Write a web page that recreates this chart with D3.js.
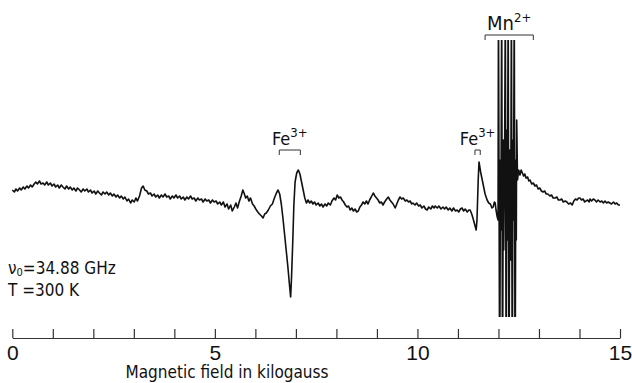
<!DOCTYPE html>
<html>
<head>
<meta charset="utf-8">
<script src="https://cdn.jsdelivr.net/npm/d3@7"></script>
<style>
  body { margin: 0; background: #fff; }
  text { font-family: "Liberation Sans Narrow", "DejaVu Sans Condensed", "Liberation Sans", sans-serif; fill: #111; }
</style>
</head>
<body>
<div id="chart"></div>
<script>
// EPR spectrum, field in kilogauss, signal in arbitrary derivative units
const spectrum = [
  [0.00, 10], [0.05, 8], [0.09, 11], [0.13, 9], [0.18, 12], [0.22, 10], [0.27, 13], [0.31, 11],
  [0.36, 14], [0.40, 12], [0.45, 15], [0.49, 13], [0.54, 16], [0.58, 18], [0.62, 16], [0.67, 19],
  [0.71, 16], [0.76, 17], [0.80, 15], [0.85, 18], [0.89, 15], [0.94, 17], [0.98, 14], [1.03, 16],
  [1.07, 13], [1.12, 15], [1.16, 12], [1.21, 15], [1.25, 13], [1.30, 11], [1.34, 14], [1.39, 11],
  [1.43, 13], [1.48, 10], [1.52, 12], [1.57, 9], [1.61, 12], [1.66, 10], [1.70, 8], [1.75, 11],
  [1.79, 9], [1.84, 11], [1.88, 8], [1.93, 10], [1.97, 7], [2.02, 9], [2.06, 6], [2.11, 9],
  [2.15, 7], [2.20, 5], [2.24, 8], [2.29, 6], [2.33, 8], [2.38, 5], [2.42, 7], [2.47, 4],
  [2.51, 6], [2.56, 3], [2.60, 5], [2.65, 2], [2.69, 4], [2.74, 1], [2.78, 3], [2.83, -1],
  [2.87, 1], [2.92, -3], [2.96, 0], [3.01, -2], [3.05, 2], [3.09, -1], [3.14, 4], [3.19, 12],
  [3.23, 14], [3.27, 10], [3.32, 9], [3.36, 6], [3.41, 7], [3.45, 4], [3.50, 6], [3.54, 3],
  [3.59, 5], [3.63, 2], [3.68, 5], [3.72, 3], [3.77, 6], [3.81, 3], [3.86, 4], [3.90, 1],
  [3.95, 4], [3.99, 2], [4.04, 5], [4.08, 2], [4.13, 4], [4.17, 1], [4.22, 3], [4.26, 0],
  [4.31, 3], [4.35, 1], [4.40, 4], [4.44, 1], [4.49, 2], [4.53, -1], [4.58, 2], [4.62, 0],
  [4.67, 1], [4.71, -2], [4.76, 1], [4.80, -1], [4.85, 0], [4.89, -3], [4.94, 0], [4.98, -2],
  [5.03, -1], [5.07, -4], [5.12, -2], [5.16, -5], [5.21, -2], [5.25, -7], [5.30, -4], [5.34, -9],
  [5.39, -5], [5.43, -11], [5.48, -7], [5.52, -3], [5.56, -8], [5.60, -2], [5.65, 4], [5.69, 10],
  [5.72, 7], [5.76, 2], [5.80, 4], [5.84, -1], [5.88, 2], [5.93, -4], [5.97, -6], [6.01, -9],
  [6.06, -12], [6.10, -14], [6.15, -16], [6.19, -18], [6.23, -14], [6.27, -13], [6.32, -10], [6.37, -6],
  [6.42, -4], [6.47, 2], [6.52, 7], [6.56, 10], [6.60, 6], [6.64, -4], [6.68, -18], [6.72, -34],
  [6.76, -50], [6.80, -66], [6.84, -84], [6.87, -97], [6.89, -80], [6.92, -45], [6.95, -5], [6.98, 18],
  [7.02, 27], [7.06, 30], [7.10, 26], [7.14, 18], [7.18, 10], [7.22, 2], [7.26, -3], [7.30, 0],
  [7.34, -3], [7.38, -1], [7.42, -4], [7.46, -2], [7.50, -5], [7.55, -3], [7.59, -6], [7.63, -4],
  [7.67, -7], [7.72, -4], [7.76, -6], [7.80, -3], [7.85, -5], [7.89, -1], [7.94, 2], [7.98, 0],
  [8.02, 5], [8.06, 2], [8.10, 3], [8.14, 0], [8.18, -2], [8.22, -5], [8.26, -7], [8.30, -6],
  [8.34, -10], [8.38, -8], [8.42, -11], [8.46, -9], [8.50, -12], [8.54, -11], [8.58, -7], [8.62, -5],
  [8.66, -2], [8.70, -4], [8.74, -1], [8.78, -4], [8.82, 0], [8.86, 3], [8.91, 7], [8.95, 4],
  [8.99, 2], [9.03, 0], [9.07, -3], [9.11, -2], [9.15, -5], [9.19, -2], [9.24, 1], [9.28, 3],
  [9.32, 0], [9.36, -2], [9.40, -4], [9.45, -8], [9.49, -4], [9.53, 0], [9.57, 3], [9.61, 1],
  [9.65, 2], [9.70, -1], [9.74, 0], [9.78, -2], [9.82, -1], [9.86, -4], [9.89, -3], [9.94, -5],
  [9.98, -3], [10.03, -6], [10.07, -5], [10.11, -8], [10.16, -6], [10.20, -9], [10.24, -10], [10.28, -7],
  [10.33, -9], [10.37, -6], [10.41, -8], [10.44, -6], [10.49, -8], [10.53, -6], [10.58, -9], [10.63, -7],
  [10.67, -9], [10.71, -7], [10.76, -10], [10.80, -8], [10.85, -11], [10.89, -8], [10.94, -11], [10.98, -10],
  [11.02, -12], [11.06, -9], [11.10, -8], [11.14, -11], [11.18, -9], [11.23, -12], [11.27, -10], [11.30, -10],
  [11.34, -14], [11.37, -18], [11.41, -24], [11.45, -30], [11.47, -20], [11.50, 20], [11.52, 38], [11.56, 28],
  [11.60, 20], [11.64, 12], [11.67, 6], [11.72, 0], [11.76, -3], [11.80, -4], [11.84, -8], [11.87, -7],
  [11.90, -2], [11.92, -3], [11.94, -10], [11.97, -17], [11.99, -20],
  [12.00, 200], [12.03, -200], [12.05, 40], [12.06, -30], [12.08, 200], [12.10, -200], [12.12, 60], [12.13, -50],
  [12.15, 30], [12.17, 200], [12.19, -200], [12.21, 70], [12.22, -40], [12.24, 200], [12.26, -200], [12.28, 50],
  [12.30, -60], [12.32, 200], [12.34, -200], [12.36, 60], [12.37, -20], [12.39, 200], [12.41, -200], [12.43, 40],
  [12.44, -40], [12.45, 80], [12.47, 20], [12.50, 30], [12.53, 25], [12.56, 30], [12.58, 28], [12.62, 24],
  [12.65, 26], [12.68, 22], [12.72, 23], [12.75, 19], [12.78, 20], [12.82, 16], [12.86, 17], [12.90, 14],
  [12.94, 15], [12.98, 11], [13.02, 12], [13.06, 9], [13.10, 8], [13.14, 9], [13.18, 6], [13.22, 6],
  [13.27, 4], [13.31, 5], [13.35, 2], [13.40, 2], [13.44, 3], [13.48, 0], [13.52, 0], [13.56, 1],
  [13.60, -2], [13.65, -1], [13.69, -2], [13.73, -4], [13.78, -3], [13.82, -5], [13.86, -1], [13.90, 1],
  [13.94, 0], [13.98, 2], [14.01, 2], [14.05, 0], [14.09, 1], [14.13, -2], [14.16, -1], [14.20, 0],
  [14.24, -2], [14.26, 1], [14.30, -1], [14.34, 1], [14.38, 0], [14.42, -2], [14.46, 0], [14.51, -2],
  [14.55, -1], [14.59, -3], [14.63, -1], [14.67, -3], [14.71, -2], [14.75, -3], [14.79, -4], [14.84, -2],
  [14.88, -4], [14.92, -3], [14.96, -5], [15.00, -5]
];

const tickValues = d3.range(0, 16);
const labelledTicks = [0, 5, 10, 15];
const axisTitle = "Magnetic field in kilogauss";

// annotation brackets
const bracketLabels = ["Fe", "Fe", "Mn"];
const bracketSups = ["3+", "3+", "2+"];
const bracketFrom = [6.59, 11.42, 11.67];
const bracketTo = [7.11, 11.55, 12.86];
const bracketLevel = [50, 50, 165];

const conditions = [["ν", "0", "=34.88 GHz"], ["T", "", " =300 K"]];

const width = 632, height = 383;

const svg = d3.select("#chart").append("svg")
  .attr("width", width)
  .attr("height", height);

const x = d3.scaleLinear().domain([0, 15]).range([12.3, 620]);
const y = d3.scaleLinear().domain([-117, 160]).range([317, 40]);

svg.append("clipPath").attr("id", "plotClip")
  .append("rect")
  .attr("x", 0).attr("y", y(160))
  .attr("width", width).attr("height", y(-117) - y(160));

const line = d3.line()
  .x(d => x(d[0]))
  .y(d => y(d[1]));

svg.append("path")
  .datum(spectrum)
  .attr("clip-path", "url(#plotClip)")
  .attr("fill", "none")
  .attr("stroke", "#111")
  .attr("stroke-width", 1.6)
  .attr("stroke-linejoin", "round")
  .attr("d", line);

// axis with upward ticks
const axis = d3.axisBottom(x)
  .tickValues(tickValues)
  .tickSizeInner(-9)
  .tickSizeOuter(0)
  .tickPadding(7)
  .tickFormat(d => labelledTicks.includes(d) ? d : "");

const gAxis = svg.append("g")
  .attr("transform", "translate(0,338)")
  .call(axis);
gAxis.selectAll("path, line").attr("stroke", "#333").attr("stroke-width", 1.2);
gAxis.selectAll("text")
  .style("font-size", "21px")
  .style("font-family", "\"Liberation Sans Narrow\", \"Liberation Sans\", sans-serif")
  .attr("fill", "#111");

svg.append("text")
  .attr("x", 227)
  .attr("y", 378)
  .attr("text-anchor", "middle")
  .style("font-size", "17px")
  .text(axisTitle);

// brackets + labels
bracketLabels.forEach((lab, i) => {
  const x0 = x(bracketFrom[i]), x1 = x(bracketTo[i]);
  const yb = y(bracketLevel[i]);
  svg.append("path")
    .attr("d", `M${x0},${yb + 5}V${yb}H${x1}V${yb + 5}`)
    .attr("fill", "none")
    .attr("stroke", "#333")
    .attr("stroke-width", 1);
  const t = svg.append("text")
    .attr("x", (x0 + x1) / 2)
    .attr("y", yb - 5)
    .attr("text-anchor", "middle")
    .style("font-size", i === 2 ? "20px" : "18px");
  t.append("tspan").text(lab);
  t.append("tspan").attr("dy", -8).style("font-size", "13px").text(bracketSups[i]);
});

// measurement conditions
conditions.forEach((c, i) => {
  const t = svg.append("text")
    .attr("x", 8)
    .attr("y", 274 + i * 22)
    .style("font-size", "17px");
  t.append("tspan").text(c[0]);
  if (c[1]) t.append("tspan").attr("dy", 2).style("font-size", "11px").text(c[1]);
  t.append("tspan").attr("dy", c[1] ? -2 : 0).text(c[2]);
});
</script>
</body>
</html>
